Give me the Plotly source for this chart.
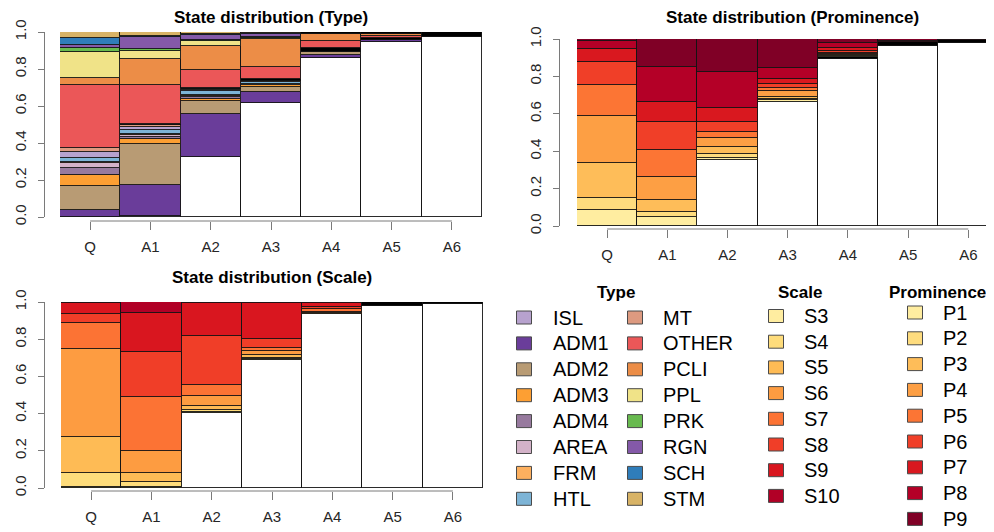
import plotly.graph_objects as go

# The page body has an 8px margin; the figure is sized to fill the rest of the window.
OFF = 8
W, H = 994 - OFF, 532 - OFF


def px(x):
    return (x - OFF) / W


def py(y):
    return 1 - (y - OFF) / H


FONT = "Liberation Sans, Arial, sans-serif"

categories = ["Q", "A1", "A2", "A3", "A4", "A5", "A6"]
y_ticks = [0.0, 0.2, 0.4, 0.6, 0.8, 1.0]

# ---------------- Type ----------------
type_legend = ["ISL", "ADM1", "ADM2", "ADM3", "ADM4", "AREA", "FRM", "HTL",
               "MT", "OTHER", "PCLI", "PPL", "PRK", "RGN", "SCH", "STM"]
type_colors = ["#B7A2CE", "#6A3D9A", "#B89B74", "#FD9F33", "#977A9E", "#D3B2C8",
               "#FDB05F", "#7DB4D6", "#DD9A80", "#EB5758", "#EC8D47", "#F0E388",
               "#68BA4F", "#8459A8", "#2F7DBA", "#D8B366"]

type_void = [0, 0.008, 0.322, 0.614, 0.861, 0.944, 0.971]
type_ADM1 = [0.040, 0.163, 0.233, 0.063, 0.016, 0.012, 0]
type_ADM2 = [0.126, 0.222, 0.074, 0.028, 0.015, 0, 0]
type_ADM3 = [0.059, 0.030, 0.011, 0.006, 0, 0, 0]
type_ADM4 = [0.038, 0.007, 0.008, 0.004, 0, 0, 0]
type_AREA = [0.027, 0.012, 0.008, 0.003, 0, 0, 0]
type_FRM = [0.007, 0.008, 0.006, 0.003, 0, 0, 0]
type_HTL = [0.020, 0.020, 0.018, 0.008, 0, 0, 0]
type_ISL = [0.033, 0.015, 0.006, 0.002, 0, 0, 0]
type_MT = [0.021, 0.012, 0.004, 0.002, 0, 0, 0]
type_NA = [0, 0.008, 0.006, 0.014, 0.022, 0.010, 0]
type_OTHER = [0.341, 0.210, 0.100, 0.063, 0.039, 0.010, 0]
type_PCLI = [0.039, 0.140, 0.130, 0.150, 0.035, 0.012, 0]
type_PPL = [0.143, 0.045, 0.024, 0.010, 0, 0, 0]
type_PRK = [0.021, 0.010, 0.008, 0.004, 0, 0, 0]
type_RGN = [0.013, 0.065, 0.027, 0.016, 0, 0, 0]
type_SCH = [0.038, 0.005, 0.003, 0.002, 0, 0, 0]
type_STM = [0.034, 0.020, 0.012, 0.008, 0, 0, 0]
type_missing = [0, 0, 0, 0, 0.012, 0.012, 0.029]

# ---------------- Prominence ----------------
prom_legend = ["P1", "P2", "P3", "P4", "P5", "P6", "P7", "P8", "P9"]
prom_colors = ["#FFEDA0", "#FEDC7E", "#FEBD59", "#FD9F44", "#FC7534", "#F03F28",
               "#D9181F", "#B40027", "#800026"]

prom_void = [0, 0, 0.353, 0.665, 0.891, 0.963, 0.980]
prom_NA = [0, 0, 0, 0, 0.015, 0.022, 0.015]
prom_P1 = [0.086, 0.050, 0.010, 0.007, 0.002, 0, 0]
prom_P2 = [0.062, 0.027, 0.022, 0.008, 0.003, 0, 0]
prom_P3 = [0.187, 0.062, 0.039, 0.012, 0.004, 0, 0]
prom_P4 = [0.253, 0.125, 0.048, 0.028, 0.004, 0, 0]
prom_P5 = [0.167, 0.142, 0.032, 0.016, 0.004, 0, 0]
prom_P6 = [0.120, 0.148, 0.050, 0.023, 0.013, 0, 0]
prom_P7 = [0.072, 0.107, 0.075, 0.025, 0.014, 0, 0]
prom_P8 = [0.044, 0.191, 0.193, 0.059, 0.027, 0.005, 0]
prom_P9 = [0.009, 0.148, 0.178, 0.157, 0.023, 0.010, 0.005]

# ---------------- Scale ----------------
scale_legend = ["S3", "S4", "S5", "S6", "S7", "S8", "S9", "S10"]
scale_colors = ["#FFEDA0", "#FEDC7B", "#FEBB55", "#FD9C41", "#FC7334", "#F03E28",
                "#D9161F", "#B10026"]

scale_void = [0, 0, 0.401, 0.688, 0.935, 0.980, 0.990]
scale_S3 = [0.005, 0.008, 0.008, 0.004, 0, 0, 0]
scale_S4 = [0.077, 0.026, 0.010, 0.005, 0, 0, 0]
scale_S5 = [0.194, 0.045, 0.022, 0.020, 0.005, 0, 0]
scale_S6 = [0.471, 0.121, 0.055, 0.020, 0.008, 0, 0]
scale_S7 = [0.140, 0.287, 0.058, 0.014, 0.012, 0, 0]
scale_S8 = [0.050, 0.242, 0.263, 0.050, 0.011, 0, 0]
scale_S9 = [0.058, 0.214, 0.176, 0.192, 0.025, 0, 0]
scale_S10 = [0.005, 0.057, 0.007, 0.007, 0.004, 0, 0]
scale_NA = [0, 0, 0, 0, 0, 0.020, 0.010]

tc = dict(zip(type_legend, type_colors))
pc = dict(zip(prom_legend, prom_colors))
sc = dict(zip(scale_legend, scale_colors))

type_stack = [
    ("void", type_void, "#FFFFFF"), ("ADM1", type_ADM1, tc["ADM1"]),
    ("ADM2", type_ADM2, tc["ADM2"]), ("ADM3", type_ADM3, tc["ADM3"]),
    ("ADM4", type_ADM4, tc["ADM4"]), ("AREA", type_AREA, tc["AREA"]),
    ("FRM", type_FRM, tc["FRM"]), ("HTL", type_HTL, tc["HTL"]),
    ("ISL", type_ISL, tc["ISL"]), ("MT", type_MT, tc["MT"]),
    ("NA", type_NA, "#000000"), ("OTHER", type_OTHER, tc["OTHER"]),
    ("PCLI", type_PCLI, tc["PCLI"]), ("PPL", type_PPL, tc["PPL"]),
    ("PRK", type_PRK, tc["PRK"]), ("RGN", type_RGN, tc["RGN"]),
    ("SCH", type_SCH, tc["SCH"]), ("STM", type_STM, tc["STM"]),
    ("missing", type_missing, "#000000"),
]
prom_stack = [
    ("void", prom_void, "#FFFFFF"), ("NA", prom_NA, "#000000"),
    ("P1", prom_P1, pc["P1"]), ("P2", prom_P2, pc["P2"]), ("P3", prom_P3, pc["P3"]),
    ("P4", prom_P4, pc["P4"]), ("P5", prom_P5, pc["P5"]), ("P6", prom_P6, pc["P6"]),
    ("P7", prom_P7, pc["P7"]), ("P8", prom_P8, pc["P8"]), ("P9", prom_P9, pc["P9"]),
]
scale_stack = [
    ("void", scale_void, "#FFFFFF"),
    ("S3", scale_S3, sc["S3"]), ("S4", scale_S4, sc["S4"]), ("S5", scale_S5, sc["S5"]),
    ("S6", scale_S6, sc["S6"]), ("S7", scale_S7, sc["S7"]), ("S8", scale_S8, sc["S8"]),
    ("S9", scale_S9, sc["S9"]), ("S10", scale_S10, sc["S10"]),
    ("NA", scale_NA, "#000000"),
]

fig = go.Figure()

for stack, xa, ya in [(type_stack, "x", "y"), (prom_stack, "x2", "y2"), (scale_stack, "x3", "y3")]:
    for name, vals, col in stack:
        fig.add_trace(go.Bar(
            x=categories, y=[v if v > 0 else None for v in vals], name=name,
            width=1, marker=dict(color=col, line=dict(color="rgba(20,20,20,0.9)", width=1)),
            xaxis=xa, yaxis=ya, showlegend=False, hoverinfo="x+y+name",
        ))

AX = "#7a7a7a"
TXT = "#262626"

# panel geometry (window pixels)
panels = {
    "1": dict(x0=60, x1=482, top=32, bottom=217, yline=44, xline=221, rng=[-0.5, 6.5]),
    "2": dict(x0=577, x1=994, top=39, bottom=226, yline=559, xline=229,
              rng=[-0.5, -0.5 + (994 - 577) / 60.2]),
    "3": dict(x0=61, x1=483, top=302, bottom=488, yline=44, xline=491, rng=[-0.5, 6.5]),
}

layout = dict(
    width=W, height=H, margin=dict(l=0, r=0, t=0, b=0, autoexpand=False),
    paper_bgcolor="white", plot_bgcolor="white", template="none",
    barmode="stack", bargap=0, showlegend=False,
    font=dict(family=FONT, color=TXT),
)
shapes = []
for k, p in panels.items():
    sfx = "" if k == "1" else k
    layout["xaxis" + sfx] = dict(
        domain=[px(p["x0"]), px(p["x1"])], anchor="free", position=py(p["xline"]),
        range=p["rng"], type="category", showline=False, showgrid=False, zeroline=False,
        ticks="outside", ticklen=8, tickwidth=1, tickcolor=AX, automargin=False,
        tickfont=dict(size=15, color=TXT, family=FONT), ticklabelstandoff=4,
        fixedrange=True,
    )
    layout["yaxis" + sfx] = dict(
        domain=[py(p["bottom"]), py(p["top"])], anchor="free", position=px(p["yline"]),
        range=[0, 1], tickvals=y_ticks, tickformat=".1f", showline=True, linecolor=AX,
        linewidth=1, showgrid=False, zeroline=False, ticks="outside", ticklen=6,
        tickwidth=1, tickcolor=AX, tickangle=-90, automargin=False,
        tickfont=dict(size=15, color=TXT, family=FONT), ticklabelstandoff=6,
        fixedrange=True,
    )
    shapes.append(dict(type="line", xref="x" + sfx, yref="paper",
                       x0=0, x1=len(categories) - 1, y0=py(p["xline"]), y1=py(p["xline"]),
                       line=dict(color=AX, width=1)))

annotations = []
titles = [("State distribution (Type)", 271, 17),
          ("State distribution (Prominence)", 792, 18),
          ("State distribution (Scale)", 272, 277)]
for t, x, y in titles:
    annotations.append(dict(text="<b>%s</b>" % t, x=px(x), y=py(y), xref="paper", yref="paper",
                            showarrow=False, xanchor="center", yanchor="middle",
                            font=dict(size=17, color="#000", family=FONT)))


def legend_block(title, tx, names, colors, sq_x, txt_x, y0, dy):
    if title:
        annotations.append(dict(text="<b>%s</b>" % title, x=px(tx), y=py(292), xref="paper",
                                yref="paper", showarrow=False, xanchor="center",
                                yanchor="middle",
                                font=dict(size=17, color="#000", family=FONT)))
    for i, (n, c) in enumerate(zip(names, colors)):
        yc = y0 + i * dy
        shapes.append(dict(type="rect", xref="paper", yref="paper",
                           x0=px(sq_x - 7.5), x1=px(sq_x + 7.5),
                           y0=py(yc + 6.5), y1=py(yc - 6.5),
                           fillcolor=c, line=dict(color="#4a4a4a", width=1)))
        annotations.append(dict(text=n, x=px(txt_x), y=py(yc), xref="paper", yref="paper",
                                showarrow=False, xanchor="left", yanchor="middle",
                                font=dict(size=20, color="#000", family=FONT)))


legend_block("Type", 616, type_legend[:8], type_colors[:8], 524, 551, 317.5, 25.9)
legend_block("", 616, type_legend[8:], type_colors[8:], 635, 661, 317.5, 25.9)
legend_block("Scale", 800, scale_legend, scale_colors, 776, 802, 316, 25.7)
legend_block("Prominence", 937, prom_legend, prom_colors, 915, 941, 312.5, 25.8)

layout["shapes"] = shapes
layout["annotations"] = annotations
fig.update_layout(**layout)
fig.write_html("out.html")
